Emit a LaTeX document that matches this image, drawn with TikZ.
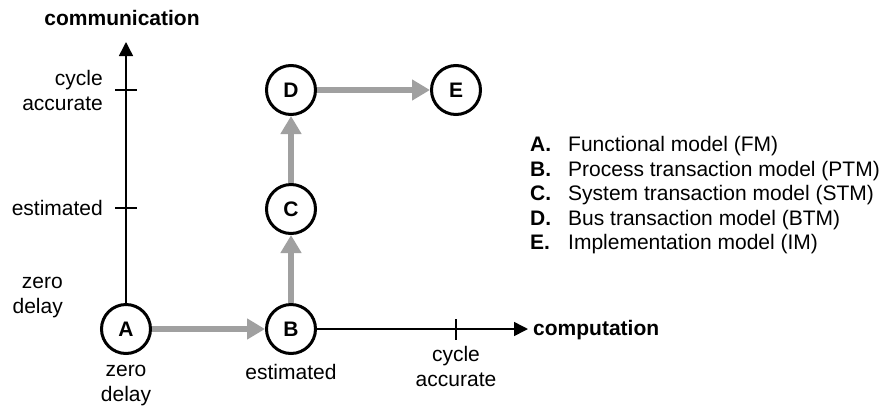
\documentclass[tikz,border=0pt]{standalone}
\usepackage{fontspec}
\setmainfont{Liberation Sans}
\usepackage{xcolor}
\usepackage{tikz}
\usetikzlibrary{arrows.meta, positioning, calc}

\definecolor{flowGray}{RGB}{160,160,160}

\begin{document}
\begin{tikzpicture}[
		x=1pt, y=-1pt,
		font=\fontsize{21}{25}\selectfont,
		modelNode/.style={circle, draw=black, line width=3pt, minimum size=49pt, inner sep=0pt, font=\fontsize{21}{25}\selectfont\bfseries},
		axisArrow/.style={-{Triangle[length=14pt, width=14pt]}, line width=1.5pt, draw=black},
		flowArrow/.style={-{Triangle[length=18pt, width=20pt]}, line width=6pt, draw=flowGray},
		tickMark/.style={line width=1.2pt, draw=black},
		axisLabel/.style={inner sep=0pt, align=center},
		legendKey/.style={anchor=base west, inner sep=0pt, font=\fontsize{21}{25}\selectfont\bfseries},
		legendText/.style={anchor=base west, inner sep=0pt}
		]
		\useasboundingbox (0,0) rectangle (882,410);

		% Nodos
		\node[modelNode] (A) at (126,329) {A};
		\node[modelNode] (B) at (291,329) {B};
		\node[modelNode] (C) at (291,209) {C};
		\node[modelNode] (D) at (291,90) {D};
		\node[modelNode] (E) at (456,90) {E};

		\coordinate (commTop) at (126,42);
		\coordinate (compEnd) at (528,329);
		\node[axisLabel, font=\fontsize{21}{25}\selectfont\bfseries] (commLabel) at (122,18) {communication};
		\node[axisLabel, anchor=west, font=\fontsize{21}{25}\selectfont\bfseries] (compLabel) at (533,330) {computation};

		% Ejes
		\draw[axisArrow] (A.north) -- (commTop);
		\draw[axisArrow] (B.east) -- (compEnd);
		\draw[tickMark] (115,90) -- (137,90);
		\draw[tickMark] (115,208) -- (137,208);
		\draw[tickMark] (456,319) -- (456,340);

		% Etiquetas de los ejes
		\node[axisLabel, anchor=east, align=right] (commCycle) at (103,90) {cycle\\accurate};
		\node[axisLabel, anchor=east, align=right] (commEst) at (103,208) {estimated};
		\node[axisLabel, anchor=east, align=right] (commZero) at (63,298) {zero\\delay};
		\node[axisLabel] (compZero) at (126,386) {zero\\delay};
		\node[axisLabel] (compEst) at (291,372) {estimated};
		\node[axisLabel] (compCycle) at (456,366) {cycle\\accurate};

		% Flechas
		\draw[flowArrow] (A) -- (B);
		\draw[flowArrow] (B) -- (C);
		\draw[flowArrow] (C) -- (D);
		\draw[flowArrow] (D) -- (E);

		% Leyenda
		\node[legendKey] (keyA) at (530,151.5) {A.};
		\node[legendKey] (keyB) at (530,176.5) {B.};
		\node[legendKey] (keyC) at (530,200.5) {C.};
		\node[legendKey] (keyD) at (530,225.5) {D.};
		\node[legendKey] (keyE) at (530,249.5) {E.};
		\node[legendText] (textA) at (568,151.5) {Functional model (FM)};
		\node[legendText] (textB) at (568,176.5) {Process transaction model (PTM)};
		\node[legendText] (textC) at (568,200.5) {System transaction model (STM)};
		\node[legendText] (textD) at (568,225.5) {Bus transaction model (BTM)};
		\node[legendText] (textE) at (568,249.5) {Implementation model (IM)};

	\end{tikzpicture}
\end{document}
